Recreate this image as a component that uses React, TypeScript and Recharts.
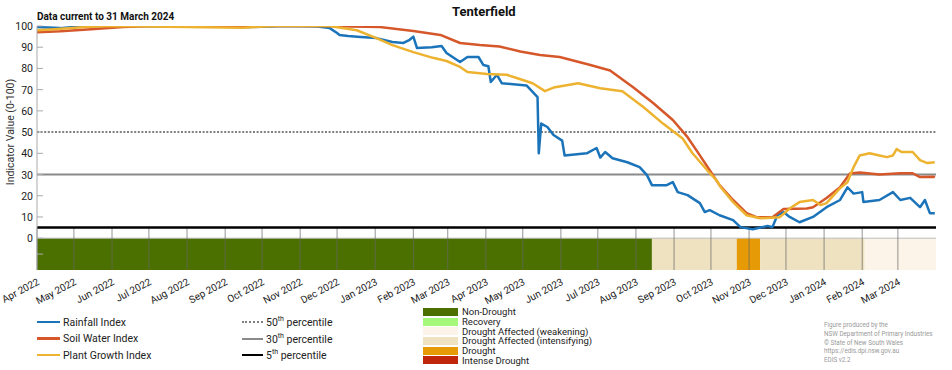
import React from "react";
import { ComposedChart, Line, XAxis, YAxis, ReferenceLine, ReferenceArea } from "recharts";

const FONT = "Roboto, 'Liberation Sans', sans-serif";

const rainfall: [string, number][] = [
  ["2022-04-01", 99.5], ["2022-04-20", 99], ["2022-05-10", 100], ["2022-08-10", 99.8], ["2022-09-20", 99.5],
  ["2022-10-20", 100], ["2022-11-15", 99.8], ["2022-11-25", 99], ["2022-12-01", 96.7], ["2022-12-03", 95.8],
  ["2022-12-10", 95.3], ["2022-12-20", 94.8], ["2023-01-02", 94.3], ["2023-01-15", 92.5], ["2023-01-24", 92],
  ["2023-01-29", 93.5], ["2023-02-01", 95], ["2023-02-04", 89.6], ["2023-02-16", 90], ["2023-02-24", 90.6],
  ["2023-02-28", 87.3], ["2023-03-11", 83], ["2023-03-17", 85.4], ["2023-03-26", 85.4], ["2023-03-30", 81.6],
  ["2023-04-03", 81], ["2023-04-05", 73.6], ["2023-04-10", 77], ["2023-04-14", 73], ["2023-05-04", 72],
  ["2023-05-09", 69], ["2023-05-13", 66.5], ["2023-05-14", 40], ["2023-05-16", 54], ["2023-05-21", 52.4],
  ["2023-05-26", 48.6], ["2023-06-02", 46], ["2023-06-04", 39], ["2023-06-22", 40], ["2023-06-30", 42.5],
  ["2023-07-03", 38], ["2023-07-07", 40.6], ["2023-07-13", 37.7], ["2023-07-25", 35.8], ["2023-08-04", 33.5],
  ["2023-08-10", 29.7], ["2023-08-14", 25], ["2023-08-26", 25], ["2023-08-31", 26.4], ["2023-09-04", 21.7],
  ["2023-09-12", 20.3], ["2023-09-22", 16.5], ["2023-09-26", 12.3], ["2023-09-30", 13.2], ["2023-10-08", 10.8],
  ["2023-10-19", 8.5], ["2023-10-25", 5.2], ["2023-11-04", 4.2], ["2023-11-16", 5.7], ["2023-11-20", 5.2],
  ["2023-11-24", 10.8], ["2023-11-29", 12.3], ["2023-12-04", 10], ["2023-12-12", 7.5], ["2023-12-23", 10],
  ["2024-01-03", 14.6], ["2024-01-14", 18], ["2024-01-20", 24], ["2024-01-25", 21], ["2024-02-01", 21.7],
  ["2024-02-02", 17], ["2024-02-15", 18], ["2024-02-26", 21.7], ["2024-03-03", 18], ["2024-03-11", 19],
  ["2024-03-19", 14.6], ["2024-03-23", 18], ["2024-03-27", 11.8], ["2024-03-31", 11.8],
];

const soilWater: [string, number][] = [
  ["2022-04-01", 97], ["2022-04-20", 97.5], ["2022-05-15", 98.5], ["2022-06-10", 99.5], ["2022-07-01", 100],
  ["2022-11-20", 100], ["2023-01-05", 99.5], ["2023-02-01", 97.6], ["2023-02-23", 95.8], ["2023-03-11", 92],
  ["2023-03-27", 91], ["2023-04-12", 90.3], ["2023-04-29", 88], ["2023-05-15", 86.3], ["2023-05-31", 85.4],
  ["2023-06-25", 81.6], ["2023-07-11", 79], ["2023-07-30", 71], ["2023-08-15", 63.7], ["2023-08-31", 55.7],
  ["2023-09-12", 47.6], ["2023-09-22", 39], ["2023-09-30", 32], ["2023-10-08", 25], ["2023-10-19", 18],
  ["2023-10-30", 11.8], ["2023-11-07", 9.9], ["2023-11-20", 9.9], ["2023-11-29", 13.7], ["2023-12-18", 14],
  ["2023-12-23", 14.6], ["2024-01-03", 18.9], ["2024-01-14", 24], ["2024-01-22", 30.5], ["2024-01-30", 31],
  ["2024-02-15", 30], ["2024-03-03", 30.6], ["2024-03-13", 30.6], ["2024-03-19", 28.8], ["2024-03-30", 29],
  ["2024-03-31", 28.6],
];

const plantGrowth: [string, number][] = [
  ["2022-04-01", 98], ["2022-04-15", 98.5], ["2022-05-10", 99.5], ["2022-06-01", 100], ["2022-08-01", 99.5],
  ["2022-09-15", 99.2], ["2022-10-10", 100], ["2022-11-25", 100], ["2022-12-17", 98], ["2023-01-02", 94.3],
  ["2023-01-15", 91], ["2023-02-01", 87.7], ["2023-02-17", 85], ["2023-02-28", 83.5], ["2023-03-11", 80.7],
  ["2023-03-17", 78.3], ["2023-04-02", 77.4], ["2023-04-18", 77], ["2023-04-26", 75.5], ["2023-05-09", 73],
  ["2023-05-19", 69.3], ["2023-05-26", 71], ["2023-06-15", 73], ["2023-07-03", 70.7], ["2023-07-21", 69.3],
  ["2023-08-07", 61.8], ["2023-08-23", 54], ["2023-09-08", 47], ["2023-09-16", 40], ["2023-09-28", 32],
  ["2023-10-06", 27], ["2023-10-09", 24], ["2023-10-19", 17], ["2023-10-30", 10.8], ["2023-11-10", 9.4],
  ["2023-11-26", 9.9], ["2023-12-04", 14], ["2023-12-12", 17], ["2023-12-23", 18], ["2023-12-29", 15.6],
  ["2024-01-03", 16.5], ["2024-01-14", 23.6], ["2024-01-20", 26.4], ["2024-01-25", 33.5], ["2024-01-30", 39],
  ["2024-02-07", 40], ["2024-02-15", 39], ["2024-02-21", 38.2], ["2024-02-26", 39], ["2024-02-29", 42],
  ["2024-03-04", 40.6], ["2024-03-13", 40.6], ["2024-03-19", 36.8], ["2024-03-25", 35.4], ["2024-03-31", 35.8],
];

const monthTicks = [
  "2022-04-01", "2022-05-01", "2022-06-01", "2022-07-01", "2022-08-01", "2022-09-01", "2022-10-01", "2022-11-01",
  "2022-12-01", "2023-01-01", "2023-02-01", "2023-03-01", "2023-04-01", "2023-05-01", "2023-06-01", "2023-07-01",
  "2023-08-01", "2023-09-01", "2023-10-01", "2023-11-01", "2023-12-01", "2024-01-01", "2024-02-01", "2024-03-01",
];
const monthNames = ["Jan", "Feb", "Mar", "Apr", "May", "Jun", "Jul", "Aug", "Sep", "Oct", "Nov", "Dec"];

// drought status periods: start date, category
const droughtPeriods: [string, string][] = [
  ["2022-04-01", "Non-Drought"],
  ["2023-08-14", "Drought Affected (intensifying)"],
  ["2023-10-22", "Drought"],
  ["2023-11-10", "Drought Affected (intensifying)"],
  ["2024-02-03", "Drought Affected (weakening)"],
];
const droughtEnd = "2024-04-01";

const droughtColors: Record<string, string> = {
  "Non-Drought": "#4b7000",
  "Recovery": "#a4f97b",
  "Drought Affected (weakening)": "#fcf4e8",
  "Drought Affected (intensifying)": "#eee2c0",
  "Drought": "#e69a05",
  "Intense Drought": "#bf260c",
};

const percentiles = [
  { label: "50", value: 50, color: "#808080", width: 2, dash: "2 1.6" },
  { label: "30", value: 30, color: "#8a8a8a", width: 2, dash: undefined },
  { label: "5", value: 5, color: "#000000", width: 2.6, dash: undefined },
];

const series = [
  { name: "Rainfall Index", data: rainfall, color: "#1b74ba" },
  { name: "Soil Water Index", data: soilWater, color: "#d5572a" },
  { name: "Plant Growth Index", data: plantGrowth, color: "#edb330" },
];

const ts = (d: string) => Date.parse(d);
const toPoints = (arr: [string, number][]) => arr.map(([d, v]) => ({ t: ts(d), v }));

const XTick = (props: any) => {
  const { x, y, payload } = props;
  const d = new Date(payload.value);
  const label = `${monthNames[d.getUTCMonth()]} ${d.getUTCFullYear()}`;
  const tx = x + 3;
  const ty = y + 14;
  return (
    <text x={tx} y={ty} textAnchor="end" fontSize={10} fill="#222" fontFamily={FONT}
      transform={`rotate(-28, ${tx}, ${ty})`}>
      {label}
    </text>
  );
};

const YTick = (props: any) => {
  const { x, y, payload } = props;
  return (
    <g>
      <line x1={x + 4} x2={x + 10} y1={y} y2={y} stroke="#aaa" strokeWidth={1} />
      {payload.value >= 0 && (
        <text x={x} y={y + 4} textAnchor="end" fontSize={10.5} fill="#222" fontFamily={FONT}>
          {payload.value}
        </text>
      )}
    </g>
  );
};

export default function App() {
  const start = ts(monthTicks[0]);
  const end = ts(droughtEnd);

  return (
    <div style={{ position: "absolute", left: 0, top: 0, width: 952, height: 370, background: "#fff", fontFamily: FONT }}>
      <ComposedChart width={952} height={370} margin={{ top: 26, right: 16, bottom: 70, left: 0 }}>
        <XAxis dataKey="t" type="number" domain={[start, end]} ticks={monthTicks.map(ts)} allowDataOverflow
          height={30} axisLine={false} tickLine={false} tickSize={0} tickMargin={0} tick={<XTick />} interval={0} />
        <YAxis type="number" domain={[-15, 100]} ticks={[-7.5, 0, 10, 20, 30, 40, 50, 60, 70, 80, 90, 100]}
          width={37} tickSize={0} tickMargin={4} tickLine={false} axisLine={{ stroke: "#aaa" }} tick={<YTick />}
          interval={0} allowDataOverflow />
        {droughtPeriods.map(([d, cat], i) => (
          <ReferenceArea key={d} x1={ts(d)} x2={ts(i + 1 < droughtPeriods.length ? droughtPeriods[i + 1][0] : droughtEnd)}
            y1={-15} y2={0} fill={droughtColors[cat]} fillOpacity={1} stroke="none" />
        ))}
        <ReferenceLine y={0} stroke="#bbb" strokeWidth={1} />
        {monthTicks.map((m) => (
          <ReferenceLine key={m} segment={[{ x: ts(m), y: -15 }, { x: ts(m), y: 5 }]} stroke="#666" strokeOpacity={0.7} strokeWidth={1} />
        ))}
        {percentiles.map((p) => (
          <ReferenceLine key={p.label} y={p.value} stroke={p.color} strokeWidth={p.width} strokeDasharray={p.dash} />
        ))}
        {series.map((s) => (
          <Line key={s.name} data={toPoints(s.data)} dataKey="v" type="linear" stroke={s.color} strokeWidth={2.5}
            dot={false} isAnimationActive={false} strokeLinejoin="round" />
        ))}
      </ComposedChart>

      <div style={{ position: "absolute", left: 452, top: 4, fontSize: 13, fontWeight: 700, color: "#111" }}>Tenterfield</div>
      <div style={{ position: "absolute", left: 37, top: 11, fontSize: 10, fontWeight: 700, color: "#111" }}>Data current to 31 March 2024</div>
      <div style={{ position: "absolute", left: 10, top: 132, transform: "translate(-50%, -50%) rotate(-90deg)", whiteSpace: "nowrap", fontSize: 10.5, color: "#333" }}>
        Indicator Value (0-100)
      </div>

      {series.map((s, i) => (
        <div key={s.name} style={{ position: "absolute", left: 37, top: 315 + i * 16.5, height: 14, display: "flex", alignItems: "center", fontSize: 10.5, color: "#222" }}>
          <span style={{ display: "inline-block", width: 23, height: 2.5, background: s.color, marginRight: 3 }} />
          {s.name}
        </div>
      ))}
      {percentiles.map((p, i) => (
        <div key={p.label} style={{ position: "absolute", left: 242, top: 315 + i * 16.5, height: 14, display: "flex", alignItems: "center", fontSize: 10.5, color: "#222" }}>
          <span style={{ display: "inline-block", width: 21, height: 0, borderTop: `${p.width}px ${p.dash ? "dotted" : "solid"} ${p.color}`, marginRight: 3 }} />
          <span>{p.label}<sup style={{ fontSize: 7 }}>th</sup> percentile</span>
        </div>
      ))}
      {Object.keys(droughtColors).map((c, i) => (
        <div key={c} style={{ position: "absolute", left: 423, top: 307 + i * 9.7, height: 9.7, display: "flex", alignItems: "center", fontSize: 9.5, color: "#222" }}>
          <span style={{ display: "inline-block", width: 35, height: 8, background: droughtColors[c], marginRight: 4 }} />
          {c}
        </div>
      ))}
      <div style={{ position: "absolute", left: 824, top: 321, fontSize: 6.3, lineHeight: "8.8px", color: "#999" }}>
        Figure produced by the<br />NSW Department of Primary Industries<br />© State of New South Wales<br />https://edis.dpi.nsw.gov.au<br />EDIS v2.2
      </div>
    </div>
  );
}
